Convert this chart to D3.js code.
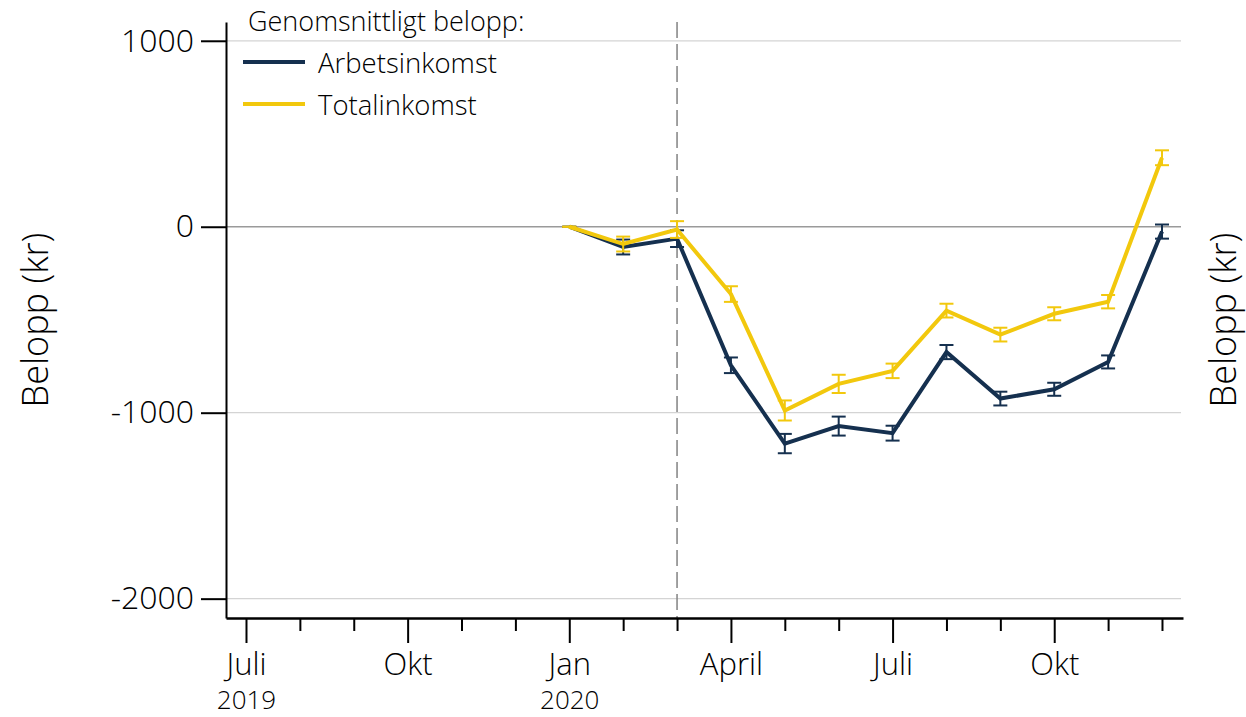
<!DOCTYPE html>
<html>
<head>
<meta charset="utf-8">
<script src="https://cdn.jsdelivr.net/npm/d3@7"></script>
<style>
  body { margin: 0; background: #fff; }
  svg { font-family: "Open Sans", sans-serif; font-weight: 300; }
</style>
</head>
<body>
<div id="chart"></div>
<script>
// months from Juli 2019 (index 0) to Dec 2020 (index 17)
const monthLabels = ['Juli', '', '', 'Okt', '', '', 'Jan', '', '', 'April', '', '', 'Juli', '', '', 'Okt', '', ''];
const yearLabels = { 0: '2019', 6: '2020' };
const seriesMonths = d3.range(6, 18); // Jan 2020 .. Dec 2020
const yTicks = [-2000, -1000, 0, 1000];
const reformMonth = 8; // mars 2020

const arbetsinkomst = [0, -109, -64, -745, -1166, -1072, -1110, -674, -924, -874, -727, -26];
const arbetsCI = [0, 40, 45, 42, 52, 51, 40, 38, 37, 35, 35, 38];
const totalinkomst = [0, -93, -15, -362, -988, -845, -775, -451, -580, -468, -403, 371];
const totalCI = [0, 40, 45, 42, 54, 49, 39, 37, 37, 35, 36, 40];

const series = [
  { name: 'Arbetsinkomst', values: arbetsinkomst, ci: arbetsCI, color: '#15304f' },
  { name: 'Totalinkomst', values: totalinkomst, ci: totalCI, color: '#f2c80d' }
];

const W = 1246, H = 717;
const svg = d3.select('#chart').append('svg').attr('width', W).attr('height', H);

const x = d3.scaleLinear().domain([-0.371, 17.39]).range([226, 1183]);
const y = d3.scaleLinear().domain([-2104, 1101]).range([618, 22]);

// grid
svg.append('g').selectAll('line')
  .data(yTicks).join('line')
  .attr('x1', 226).attr('x2', 1181)
  .attr('y1', d => y(d)).attr('y2', d => y(d))
  .attr('stroke', d => d === 0 ? '#9a9a9a' : '#d4d4d4')
  .attr('stroke-width', d => d === 0 ? 1.6 : 1.2);

// dashed reform line
svg.append('line')
  .attr('x1', x(reformMonth)).attr('x2', x(reformMonth))
  .attr('y1', 22).attr('y2', 618)
  .attr('stroke', '#8a8a8a').attr('stroke-width', 1.6)
  .attr('stroke-dasharray', '16,6');

// y axis
const yAxis = svg.append('g').attr('transform', 'translate(226,0)')
  .call(d3.axisLeft(y).tickValues(yTicks).tickSize(25).tickSizeOuter(0).tickPadding(7)
    .tickFormat(d => String(d)));
yAxis.select('.domain').attr('stroke-width', 2);
yAxis.selectAll('.tick line').attr('stroke-width', 2);
yAxis.selectAll('.tick text').attr('font-size', 32).attr('fill', '#000')
  .style('font-family', '"Open Sans", sans-serif');

// x axis
const xAxis = svg.append('g').attr('transform', 'translate(0,618)')
  .call(d3.axisBottom(x).tickValues(d3.range(18)).tickSize(0).tickSizeOuter(0).tickFormat(''));
xAxis.select('.domain').attr('stroke-width', 2.5);
xAxis.selectAll('.tick line').attr('y2', d => d % 3 === 0 ? 25 : 13).attr('stroke-width', 2);
xAxis.selectAll('.tick')
  .append('text').attr('y', 57).attr('fill', '#000').attr('font-size', 31)
  .style('font-family', '"Open Sans", sans-serif')
  .text(d => monthLabels[d]);
xAxis.selectAll('.tick')
  .append('text').attr('y', 91).attr('fill', '#000').attr('font-size', 26)
  .style('font-family', '"Open Sans", sans-serif')
  .text(d => yearLabels[d] || '');

// axis titles
svg.append('text').attr('transform', 'translate(48,320) rotate(-90)')
  .attr('text-anchor', 'middle').attr('font-size', 36).text('Belopp (kr)');
svg.append('text').attr('transform', 'translate(1236,320) rotate(-90)')
  .attr('text-anchor', 'middle').attr('font-size', 36).text('Belopp (kr)');

// series
const line = d3.line().x(d => x(d[0])).y(d => y(d[1]));
series.forEach(s => {
  const pts = seriesMonths.map((m, i) => [m, s.values[i], s.ci[i]]);
  const g = svg.append('g');
  g.append('path').datum(pts)
    .attr('d', line).attr('fill', 'none')
    .attr('stroke', s.color).attr('stroke-width', 4).attr('stroke-linejoin', 'miter');
  const eb = g.selectAll('g.eb').data(pts).join('g').attr('class', 'eb')
    .attr('stroke', s.color).attr('stroke-width', 2);
  eb.append('line')
    .attr('x1', d => x(d[0])).attr('x2', d => x(d[0]))
    .attr('y1', d => y(d[1] - d[2])).attr('y2', d => y(d[1] + d[2]));
  eb.append('line')
    .attr('x1', d => x(d[0]) - 7).attr('x2', d => x(d[0]) + 7)
    .attr('y1', d => y(d[1] + d[2])).attr('y2', d => y(d[1] + d[2]));
  eb.append('line')
    .attr('x1', d => x(d[0]) - 7).attr('x2', d => x(d[0]) + 7)
    .attr('y1', d => y(d[1] - d[2])).attr('y2', d => y(d[1] - d[2]));
});

// legend
const legend = svg.append('g');
legend.append('text').attr('x', 248).attr('y', 31).attr('font-size', 27)
  .text('Genomsnittligt belopp:');
series.forEach((s, i) => {
  const ly = 62 + i * 42;
  legend.append('line').attr('x1', 243).attr('x2', 305).attr('y1', ly).attr('y2', ly)
    .attr('stroke', s.color).attr('stroke-width', 4);
  legend.append('text').attr('x', 318).attr('y', ly + 11).attr('font-size', 27.5)
    .text(s.name);
});
</script>
</body>
</html>
